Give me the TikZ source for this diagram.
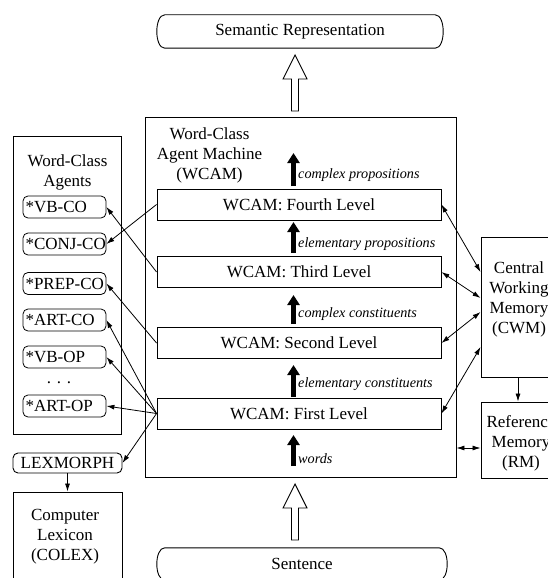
\documentclass[tikz,border=0pt]{standalone}
\usepackage{fontspec}
\setmainfont{Liberation Serif}
\usetikzlibrary{arrows.meta,calc}

\newcommand\mainfs{\fontsize{17}{20}\selectfont}
\newcommand\agentfs{\mainfs\hyphenpenalty=10000\relax\exhyphenpenalty=10000\relax}
\newcommand\labfs{\fontsize{14.2}{16}\selectfont\itshape}
% outline with shallow curved ends, drawn round an undrawn node
\newcommand\pillshape[1]{%
  \draw[line width=0.9pt]
    ([xshift=8pt]#1.north west) -- ([xshift=-8pt]#1.north east)
    .. controls ([xshift=2.67pt]#1.north east) and ([xshift=2.67pt]#1.south east) ..
    ([xshift=-8pt]#1.south east) -- ([xshift=8pt]#1.south west)
    .. controls ([xshift=-2.67pt]#1.south west) and ([xshift=-2.67pt]#1.north west) ..
    cycle;}

\begin{document}
\begin{tikzpicture}[x=1pt,y=-1pt,
  box/.style={draw, line width=0.9pt, inner sep=0pt, font=\mainfs},
  levelbox/.style={box, minimum width=284pt, minimum height=31pt},
  agentbox/.style={draw, line width=0.8pt, rounded corners=5pt, font=\agentfs,
    minimum height=22pt, text width=78pt, inner xsep=2.5pt, inner ysep=0pt, align=left},
  pill/.style={inner sep=0pt, font=\mainfs},
  title/.style={font=\mainfs, align=center, inner sep=0pt, anchor=north},
  lab/.style={font=\labfs, inner sep=0pt, anchor=base west},
  conn/.style={line width=0.8pt, -{Latex[length=8pt,width=5pt]}},
  dconn/.style={line width=0.8pt, {Latex[length=8pt,width=5pt]}-{Latex[length=8pt,width=5pt]}},
  flow/.style={line width=5pt, -{Triangle[length=10pt,width=12pt]}},
  hollow/.style={draw, line width=0.9pt, fill=white, line join=miter}]

\useasboundingbox (0,0) rectangle (548,578);
\clip (0,0) rectangle (548,578);

% input and output
\node[pill, minimum width=286pt, minimum height=33pt] (sem) at (300,31.5) {Semantic Representation};
\pillshape{sem}
\node[pill, minimum width=290pt, minimum height=32pt] (sent) at (302,564) {Sentence};
\pillshape{sent}

% word-class agent machine with its four levels
\node[box, minimum width=311pt, minimum height=360pt] (wcam) at (300.5,297) {};
\node[title] (wcamtitle) at (209.5,127.3) {\baselineskip=20pt Word-Class\\Agent Machine\\(WCAM)};
\node[levelbox] (fourth) at (299,204.5) {WCAM: Fourth Level};
\node[levelbox] (third)  at (299,272)   {WCAM: Third Level};
\node[levelbox] (second) at (299,343)   {WCAM: Second Level};
\node[levelbox] (first)  at (299,413.5) {WCAM: First Level};

% upward flow inside the machine
\draw[flow] (293.5,466) -- (293.5,435);
\draw[flow] (293.5,397) -- (293.5,365);
\draw[flow] (293.5,324) -- (293.5,295);
\draw[flow] (293.5,253) -- (293.5,222);
\draw[flow] (293.5,186) -- (293.5,153);
\node[lab] (l0) at (298,463) {words};
\node[lab] (l1) at (298,387) {elementary constituents};
\node[lab] (l2) at (298,317) {complex constituents};
\node[lab] (l3) at (298,247) {elementary propositions};
\node[lab] (l4) at (298,178) {complex propositions};

% block arrows into and out of the machine
\draw[hollow] (291.5,111) -- (291.5,79) -- (283,79) -- (295,55) -- (307,79) -- (298.5,79) -- (298.5,111) -- cycle;
\draw[hollow] (291.5,540) -- (291.5,508) -- (283,508) -- (295,484) -- (307,508) -- (298.5,508) -- (298.5,540) -- cycle;

% word-class agents
\node[box, minimum width=108pt, minimum height=298pt] (agents) at (67,285) {};
\node[title] (agtitle) at (67.5,154.4) {\baselineskip=18.5pt Word-Class\\Agents};
\node[agentbox] (vbco)   at (64.5,207)   {*VB-CO};
\node[agentbox] (conjco) at (64.5,244)   {*CONJ-CO};
\node[agentbox] (prepco) at (64.5,283.5) {*PREP-CO};
\node[agentbox] (artco)  at (64.5,320)   {*ART-CO};
\node[agentbox] (vbop)   at (64.5,357)   {*VB-OP};
\node[font=\mainfs, inner sep=0pt, anchor=base] (dots) at (59,383) {.\,\,.\,\,.};
\node[agentbox] (artop)  at (64.5,406)   {*ART-OP};

% lexicon
\node[box, rounded corners=5pt, minimum width=109pt, minimum height=20pt] (lex) at (67.5,463) {LEXMORPH};
\node[box, minimum width=109pt, minimum height=90pt] (colex) at (67.5,537) {};
\node[title] (colextitle) at (65,509.5) {\baselineskip=21pt Computer\\Lexicon\\(COLEX)};

% memories
\node[box, minimum width=78pt, minimum height=140pt] (cwm) at (520,307) {};
\node[title] (cwmtitle) at (519,261.4) {\baselineskip=21pt Central\\Working\\Memory\\(CWM)};
\node[box, minimum width=78pt, minimum height=76pt] (rm) at (520,440) {};
\node[title] (rmtitle) at (521,415.4) {\baselineskip=20pt Reference\\Memory\\(RM)};

% levels to agents
\draw[conn] (fourth.west) -- (conjco.east);
\draw[conn] (third.west) -- (vbco.east);
\draw[conn] (second.west) -- (prepco.east);
\draw[conn] (first.west) -- (artco.east);
\draw[conn] (first.west) -- (vbop.east);
\draw[conn] (first.west) -- (artop.east);
\draw[conn] (first.west) -- (lex.east);
\draw[conn] (lex.south) -- (colex.north);

% levels to central working memory
\draw[dconn] (fourth.east) -- ([yshift=35pt]cwm.west);
\draw[dconn] (third.east) -- ([yshift=9pt]cwm.west);
\draw[dconn] (second.east) -- ([yshift=-5pt]cwm.west);
\draw[dconn] (first.east) -- ([yshift=-40pt]cwm.west);
\draw[conn] ([xshift=-2pt]cwm.south) -- ([xshift=-2pt]rm.north);
\draw[dconn] ([yshift=-8pt]rm.west) -- ([yshift=-8pt]rm.west -| wcam.east);

\end{tikzpicture}
\end{document}
